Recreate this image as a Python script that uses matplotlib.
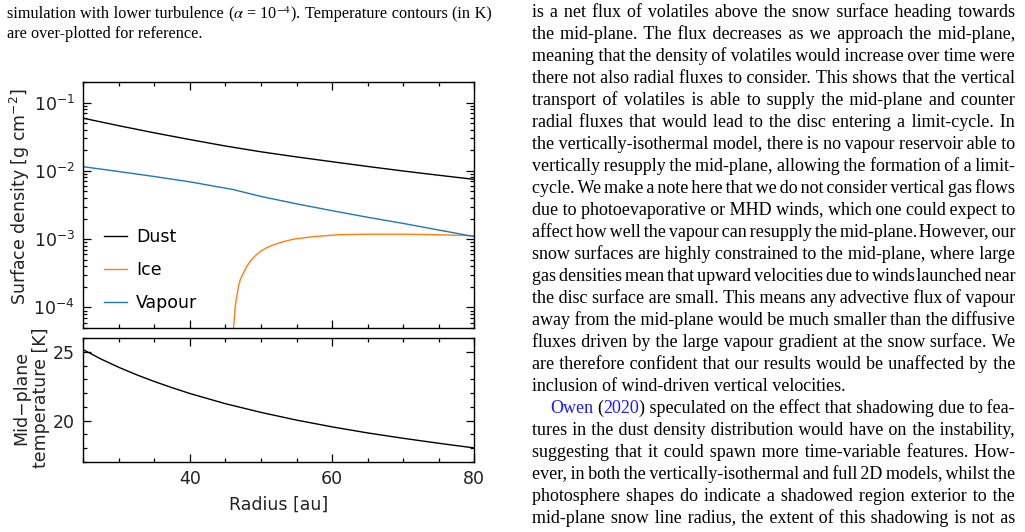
import matplotlib
matplotlib.use('Agg')
import numpy as np
import matplotlib.pyplot as plt
from matplotlib.font_manager import FontProperties
from matplotlib.transforms import IdentityTransform
from matplotlib.ticker import MultipleLocator, LogLocator, NullFormatter

W, H = 1025, 532

# surface densities [g cm^-2]
radius_dust = [25, 30, 35, 40, 45, 50, 55, 60, 65, 70, 75, 80]
sigma_dust = [0.059, 0.0458, 0.0360, 0.0287, 0.0231, 0.0190, 0.0160, 0.0136, 0.0116, 0.00995, 0.00862, 0.0075]

radius_vapour = [25, 30, 35, 40, 45, 46, 50, 55, 60, 65, 70, 75, 80]
sigma_vapour = [0.0115, 0.00977, 0.00826, 0.0069, 0.00558, 0.00535, 0.00422, 0.00329, 0.00261, 0.00209, 0.00170, 0.00136, 0.00109]

radius_ice = [46.0, 46.13, 46.37, 46.83, 47.1, 47.54, 48.0, 48.48, 49.1, 49.89, 50.8, 51.76, 53.0,
              54.58, 57.39, 60.92, 65, 70, 75, 80]
sigma_ice = [3.4e-5, 5.0e-5, 1.04e-4, 2.04e-4, 2.6e-4, 3.2e-4, 4.0e-4, 4.72e-4, 5.6e-4, 6.6e-4, 7.5e-4,
             8.26e-4, 9.1e-4, 1.0e-3, 1.09e-3, 1.16e-3, 1.18e-3, 1.18e-3, 1.16e-3, 1.12e-3]

# mid-plane temperature [K]
radius_temp = [25, 27.5, 30, 32.5, 35, 37.5, 40, 45, 50, 55, 60, 65, 70, 75, 80]
temp_mid = [25.15, 24.47, 23.87, 23.33, 22.84, 22.39, 21.97, 21.23, 20.60, 20.04, 19.55, 19.11, 18.72, 18.36, 18.02]

caption_lines = [
    "simulation with lower turbulence {math} Temperature contours (in K)",
    "are over-plotted for reference.",
]
caption_math = "($\\alpha$ = 10$^{-4}$)."

body_lines = [
    "is a net flux of volatiles above the snow surface heading towards",
    "the mid-plane. The flux decreases as we approach the mid-plane,",
    "meaning that the density of volatiles would increase over time were",
    "there not also radial fluxes to consider. This shows that the vertical",
    "transport of volatiles is able to supply the mid-plane and counter",
    "radial fluxes that would lead to the disc entering a limit-cycle. In",
    "the vertically-isothermal model, there is no vapour reservoir able to",
    "vertically resupply the mid-plane, allowing the formation of a limit-",
    "cycle. We make a note here that we do not consider vertical gas flows",
    "due to photoevaporative or MHD winds, which one could expect to",
    "affect how well the vapour can resupply the mid-plane. However, our",
    "snow surfaces are highly constrained to the mid-plane, where large",
    "gas densities mean that upward velocities due to winds launched near",
    "the disc surface are small. This means any advective flux of vapour",
    "away from the mid-plane would be much smaller than the diffusive",
    "fluxes driven by the large vapour gradient at the snow surface. We",
    "are therefore confident that our results would be unaffected by the",
    "inclusion of wind-driven vertical velocities.",
    "Owen (2020) speculated on the effect that shadowing due to fea-",
    "tures in the dust density distribution would have on the instability,",
    "suggesting that it could spawn more time-variable features. How-",
    "ever, in both the vertically-isothermal and full 2D models, whilst the",
    "photosphere shapes do indicate a shadowed region exterior to the",
    "mid-plane snow line radius, the extent of this shadowing is not as",
]
para_end = 17      # last line of the first paragraph
para_start = 18    # indented line

link = '#1a1aff'
special_words = {
    'Owen': [('Owen', link)],
    '(2020)': [('(', 'k'), ('2020', link), (')', 'k')],
    '{math}': [(caption_math, 'k')],
}

fig = plt.figure(figsize=(W / 100, H / 100), dpi=100)
renderer = fig.canvas.get_renderer()


def serif(size):
    return FontProperties(family='Liberation Serif', size=size, math_fontfamily='stix')


def width(s, prop):
    return renderer.get_text_width_height_descent(s, prop, ismath='$' in s)[0]


def gap_width(g, prop):
    return width('a' + g + 'a', prop) - width('aa', prop)


def gap_table(prop):
    # unicode spaces of different widths, so a justified line can stay one text run
    bases = ['', '\u2006', '\u2009', ' ', '\u2004', '\u2002', '\u2002\u2006']
    out = []
    for b in bases:
        for k in range(4):
            g = b + '\u200a' * k
            if g:
                out.append((gap_width(g, prop), g))
    return out


def words_of(line):
    return [special_words.get(w, [(w, 'k')]) for w in line.split(' ')]


def word_width(parts, prop):
    return sum(width(s, prop) for s, c in parts)


def natural(line, prop):
    ws = words_of(line)
    return sum(word_width(p, prop) for p in ws) + gap_width(' ', prop) * (len(ws) - 1)


def put_line(line, x0, x1, y_top, size, justify):
    prop = serif(size)
    words = words_of(line)
    ws = [word_width(p, prop) for p in words]
    n = len(words) - 1
    gaps = [(gap_width(' ', prop), ' ')] * n
    if justify and n > 0:
        table = gap_table(prop)
        remaining = x1 - x0 - sum(ws)
        gaps = []
        for k in range(n):
            ideal = remaining / (n - k)
            best = min(table, key=lambda t: abs(t[0] - ideal))
            gaps.append(best)
            remaining -= best[0]
    # merge plain black words and gaps into runs of text
    runs = []
    x = x0
    cur, cur_x, cur_c = '', x0, None
    for i, parts in enumerate(words):
        for s, c in parts:
            plain = '$' not in s
            if plain and cur and cur_c == c and '$' not in cur:
                cur += s
            else:
                if cur:
                    runs.append((cur_x, cur, cur_c))
                cur, cur_x, cur_c = s, x, c
            x += width(s, prop)
        if i < n:
            gw, g = gaps[i]
            if cur and cur_c == 'k' and '$' not in cur:
                cur += g
            else:
                if cur:
                    runs.append((cur_x, cur, cur_c))
                cur, cur_c = '', None
            x += gw
            if not cur:
                cur_x = x
    if cur:
        runs.append((cur_x, cur, cur_c))
    for rx, s, c in runs:
        fig.text(rx, H - y_top, s, transform=IdentityTransform(), fontproperties=prop,
                 color=c, ha='left', va='baseline')


# fit font sizes to the column widths
body_x0, body_x1 = 532, 1015
ratios = [(body_x1 - body_x0) / natural(l, serif(20)) for i, l in enumerate(body_lines)
          if i not in (para_end, para_start)]
body_size = round(20 * float(np.median(ratios)), 1)

cap_x0, cap_x1 = 7, 492
cap_size = round(20 * (cap_x1 - cap_x0) / natural(caption_lines[0], serif(20)) * 0.99, 1)

for i, line in enumerate(caption_lines):
    put_line(line, cap_x0, cap_x1, 18 + 20 * i, cap_size, i < len(caption_lines) - 1)

for i, line in enumerate(body_lines):
    x0 = body_x0 + 18 if i == para_start else body_x0
    put_line(line, x0, body_x1, 17 + 22 * i, body_size, i != para_end)

# ---- the chart ----
ax1 = fig.add_axes([83.3 / W, 1 - 328 / H, 391 / W, 246 / H])
ax2 = fig.add_axes([83.3 / W, 1 - 462 / H, 391 / W, 124 / H])

ax1.plot(radius_dust, sigma_dust, color='k', lw=1, label='Dust')
ax1.plot(radius_ice, sigma_ice, color='#ff7f0e', lw=1, label='Ice')
ax1.plot(radius_vapour, sigma_vapour, color='#1f77b4', lw=1, label='Vapour')
ax1.set_yscale('log')
ax1.set_xlim(25, 80)
ax1.set_ylim(5e-5, 0.2)
ax1.yaxis.set_major_locator(LogLocator(base=10, numticks=10))
ax1.yaxis.set_minor_locator(LogLocator(base=10, subs=np.arange(2, 10), numticks=20))
ax1.yaxis.set_minor_formatter(NullFormatter())

ax2.plot(radius_temp, temp_mid, color='k', lw=1)
ax2.set_xlim(25, 80)
ax2.set_ylim(17, 26)
ax2.yaxis.set_major_locator(MultipleLocator(5))
ax2.yaxis.set_minor_locator(MultipleLocator(1))

for ax in (ax1, ax2):
    ax.xaxis.set_major_locator(MultipleLocator(20))
    ax.xaxis.set_minor_locator(MultipleLocator(5))
    ax.tick_params(which='both', direction='in', top=True, right=True,
                   labelsize=12.5, pad=6, width=0.9, labelcolor='#222222')
    ax.tick_params(which='major', length=6)
    ax.tick_params(which='minor', length=3)
    for sp in ax.spines.values():
        sp.set_linewidth(1.0)
ax1.tick_params(labelbottom=False)

ax2.set_xlabel('Radius [au]', fontsize=12.5, labelpad=5, color='#222222')
fig.text(20 / W, 1 - 197 / H, 'Surface density [g cm$^{-2}$]', rotation=90,
         ha='center', va='center', fontsize=12.5, color='#222222')
fig.text(31 / W, 1 - 398 / H, 'Mid\u2212plane\ntemperature [K]', rotation=90,
         ha='center', va='center', multialignment='center', linespacing=1.1,
         fontsize=12.5, color='#222222')

ax1.legend(loc='lower left', bbox_to_anchor=(0.053, 0.065), frameon=False, fontsize=12.5,
           handlelength=1.35, handletextpad=0.5, labelspacing=0.85, borderpad=0,
           borderaxespad=0)

fig.savefig('out.png', dpi=100)
